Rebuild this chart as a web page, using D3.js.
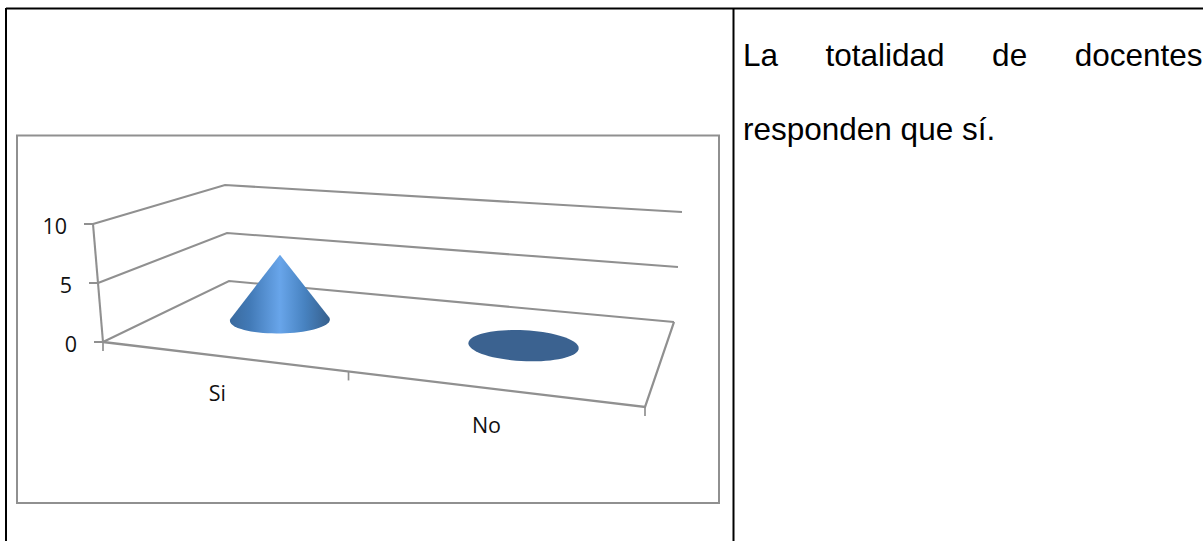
<!DOCTYPE html>
<html>
<head>
<meta charset="utf-8">
<script src="https://cdn.jsdelivr.net/npm/d3@7"></script>
<style>
    html, body { margin: 0; padding: 0; background: #fff; overflow: hidden; }
    svg { display: block; }
</style>
</head>
<body>
<svg id="chart" width="1203" height="541"></svg>
<script>
const categories = ["Si", "No"]
const values = [6, 0]
const yTicks = [0, 5, 10]
const noteLines = ["La totalidad de docentes", "responden que sí."]

const svg = d3.select("#chart")
const gridColor = "#909090"

// page table lines
svg.append("path")
    .attr("d", "M6,8.5H1203M6,8V541M733.5,8V541")
    .attr("fill", "none").attr("stroke", "#000").attr("stroke-width", 2)

// chart frame
svg.append("rect")
    .attr("x", 17).attr("y", 135.5).attr("width", 702).attr("height", 367.5)
    .attr("fill", "#fff").attr("stroke", gridColor).attr("stroke-width", 2)

// corners of the 3d box, as scales of the value
const frontX = d3.scaleLinear().domain([0, 10]).range([103, 93])
const frontY = d3.scaleLinear().domain([0, 10]).range([342, 224])
const backLeftX = d3.scaleLinear().domain([0, 10]).range([229, 225])
const backLeftY = d3.scaleLinear().domain([0, 10]).range([281, 185])
const backRightX = d3.scaleLinear().domain([0, 10]).range([674, 682])
const backRightY = d3.scaleLinear().domain([0, 10]).range([322, 212])
const frontRight = [645, 407]

// u along categories, v in depth: projective map of the floor
function floorMap(p00, p10, p11, p01) {
    const dx1 = p10[0] - p11[0], dx2 = p01[0] - p11[0], sx = p00[0] - p10[0] + p11[0] - p01[0]
    const dy1 = p10[1] - p11[1], dy2 = p01[1] - p11[1], sy = p00[1] - p10[1] + p11[1] - p01[1]
    const den = dx1 * dy2 - dx2 * dy1
    const g = (sx * dy2 - dx2 * sy) / den
    const h = (dx1 * sy - sx * dy1) / den
    const a = p10[0] - p00[0] + g * p10[0], b = p01[0] - p00[0] + h * p01[0]
    const d = p10[1] - p00[1] + g * p10[1], e = p01[1] - p00[1] + h * p01[1]
    return (u, v) => {
        const w = g * u + h * v + 1
        return [(a * u + b * v + p00[0]) / w, (d * u + e * v + p00[1]) / w]
    }
}

const floor = floorMap([frontX(0), frontY(0)], frontRight,
                       [backRightX(0), backRightY(0)], [backLeftX(0), backLeftY(0)])

const xBand = d3.scaleBand().domain(categories).range([0, 1])
const pxPerUnit = d3.scaleLinear().domain([0, 1]).range([11.8, 9.8])

// walls and gridlines
svg.append("g").selectAll("path").data(yTicks).join("path")
    .attr("d", t => d3.line()([[frontX(t), frontY(t)], [backLeftX(t), backLeftY(t)], [backRightX(t), backRightY(t)]]))
    .attr("fill", "none").attr("stroke", gridColor).attr("stroke-width", 2.1)

// vertical axis and ticks
svg.append("line")
    .attr("x1", frontX(0)).attr("y1", frontY(0)).attr("x2", frontX(10)).attr("y2", frontY(10))
    .attr("stroke", gridColor).attr("stroke-width", 2.1)
svg.append("g").selectAll("line").data(yTicks).join("line")
    .attr("x1", t => frontX(t) - 9).attr("x2", t => frontX(t))
    .attr("y1", t => frontY(t)).attr("y2", t => frontY(t))
    .attr("stroke", gridColor).attr("stroke-width", 2)

// floor front and right edge
svg.append("path")
    .attr("d", d3.line()([floor(0, 0), floor(1, 0), floor(1, 1)]))
    .attr("fill", "none").attr("stroke", gridColor).attr("stroke-width", 2.3)

// category ticks
svg.append("g").selectAll("line").data([0, 0.5, 1]).join("line")
    .attr("x1", u => floor(u, 0)[0]).attr("x2", u => floor(u, 0)[0])
    .attr("y1", u => floor(u, 0)[1]).attr("y2", u => floor(u, 0)[1] + 9)
    .attr("stroke", gridColor).attr("stroke-width", 1.7)

// tick labels
svg.append("g").selectAll("text").data(yTicks).join("text")
    .attr("x", t => frontX(t) - 26).attr("y", t => frontY(t) + 10)
    .attr("text-anchor", "end")
    .attr("font-family", "'Open Sans', sans-serif").attr("font-size", 21.5).attr("fill", "#111")
    .text(t => t)

svg.append("g").selectAll("text").data(categories).join("text")
    .attr("x", c => floor(xBand(c) + xBand.bandwidth() / 2, 0)[0] - 3)
    .attr("y", c => floor(xBand(c) + xBand.bandwidth() / 2, 0)[1] + 45)
    .attr("text-anchor", "middle")
    .attr("font-family", "'Open Sans', sans-serif").attr("font-size", 21.5).attr("fill", "#111")
    .text(c => c)

// cone shading
const grad = svg.append("defs").append("linearGradient").attr("id", "coneFill")
grad.selectAll("stop")
    .data([[0, "#3a6a9e"], [0.2, "#427ab7"], [0.5, "#68a5ea"], [0.75, "#4782c0"], [1, "#365f8c"]])
    .join("stop")
    .attr("offset", d => d[0]).attr("stop-color", d => d[1])

const baseU = 0.102, baseV = 0.19

function basePoints(i) {
    const u = xBand(categories[i]) + xBand.bandwidth() / 2
    return d3.range(0, 72).map(k => {
        const a = k / 72 * 2 * Math.PI
        return floor(u + baseU * Math.cos(a), 0.5 + baseV * Math.sin(a))
    })
}

svg.append("g").selectAll("path").data(values).join("path")
    .attr("d", (val, i) => {
        const pts = basePoints(i)
        if (val === 0) return d3.line()(pts) + "Z"
        const u = xBand(categories[i]) + xBand.bandwidth() / 2
        const c = floor(u, 0.5)
        const apex = [c[0], c[1] - val * pxPerUnit(0.5)]
        return d3.line()(d3.polygonHull(pts.concat([apex]))) + "Z"
    })
    .attr("fill", val => val === 0 ? "#3b6290" : "url(#coneFill)")

// side note
const noteX = 743, noteRight = 1202.5
const note = svg.append("g").selectAll("text").data(noteLines).join("text")
    .attr("x", noteX).attr("y", (d, i) => 66 + i * 74)
    .attr("font-family", "'Liberation Sans', Arial, sans-serif").attr("font-size", 31.5).attr("fill", "#000")
    .text(d => d)

// first line is justified to the cell width
note.filter((d, i) => i === 0).each(function (d) {
    const gaps = d.split(" ").length - 1
    d3.select(this).attr("word-spacing", (noteRight - noteX - this.getComputedTextLength()) / gaps)
})
</script>
</body>
</html>
